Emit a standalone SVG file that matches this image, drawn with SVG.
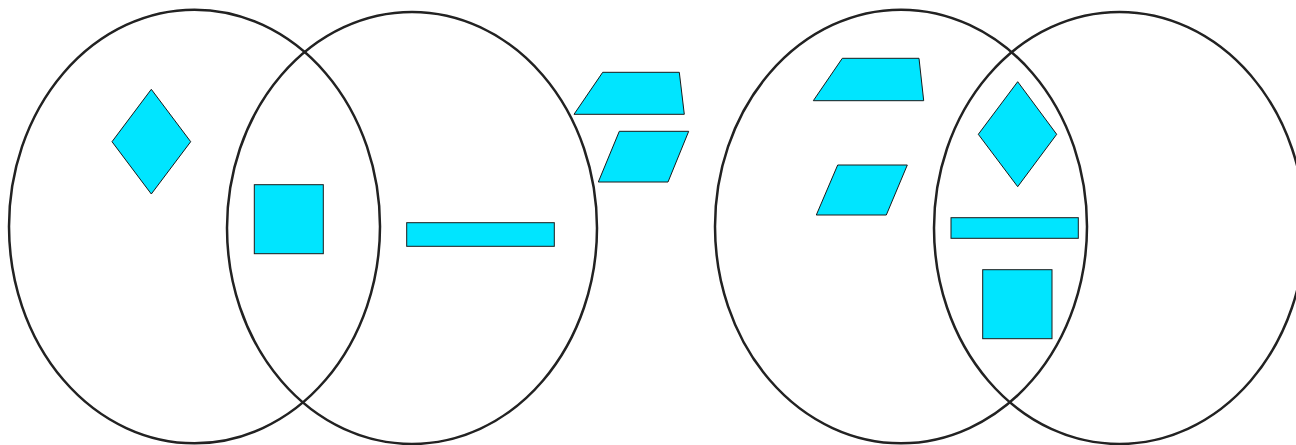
<svg xmlns="http://www.w3.org/2000/svg" width="1296" height="445" viewBox="0 0 1296 445">
<style>
.set{fill:none;stroke:#222;stroke-width:2.5}
.shape{fill:#00E5FF;stroke:#1a1a1a;stroke-width:1}
</style>
<rect width="1296" height="445" fill="#fff"/>
<g id="set-a1"><ellipse class="set" cx="194.5" cy="226.5" rx="185.5" ry="216.8"/></g>
<g id="set-b1"><ellipse class="set" cx="412" cy="228" rx="185" ry="216"/></g>
<g id="set-a2"><ellipse class="set" cx="901" cy="226.5" rx="186" ry="216.8"/></g>
<g id="set-b2"><ellipse class="set" cx="1119.5" cy="228" rx="185.5" ry="216"/></g>
<g id="diamond1"><polygon class="shape" points="151.3,89.3 190.7,141.7 151.3,194 112,141.7"/></g>
<g id="square1"><rect class="shape" x="254.3" y="184.7" width="69" height="69"/></g>
<g id="bar1"><rect class="shape" x="406.7" y="222.7" width="147.6" height="23.6"/></g>
<g id="trapezoid1"><polygon class="shape" points="602.7,72.3 679.3,72.3 684.3,114.3 574,114.3"/></g>
<g id="parallelogram1"><polygon class="shape" points="619.3,131.3 688.7,131.3 668,182 598.3,182"/></g>
<g id="trapezoid2"><polygon class="shape" points="842.3,58.3 919,58.3 923.7,100.7 813.3,100.7"/></g>
<g id="parallelogram2"><polygon class="shape" points="837.7,165 907.3,165 886.3,215 816.3,215"/></g>
<g id="diamond2"><polygon class="shape" points="1017.7,81.7 1056.7,134.3 1017.7,186.7 978.3,134.3"/></g>
<g id="bar2"><rect class="shape" x="951" y="217.7" width="127.3" height="20.6"/></g>
<g id="square2"><rect class="shape" x="982.7" y="269.7" width="69.3" height="69"/></g>
<g id="connectors"></g>
</svg>
